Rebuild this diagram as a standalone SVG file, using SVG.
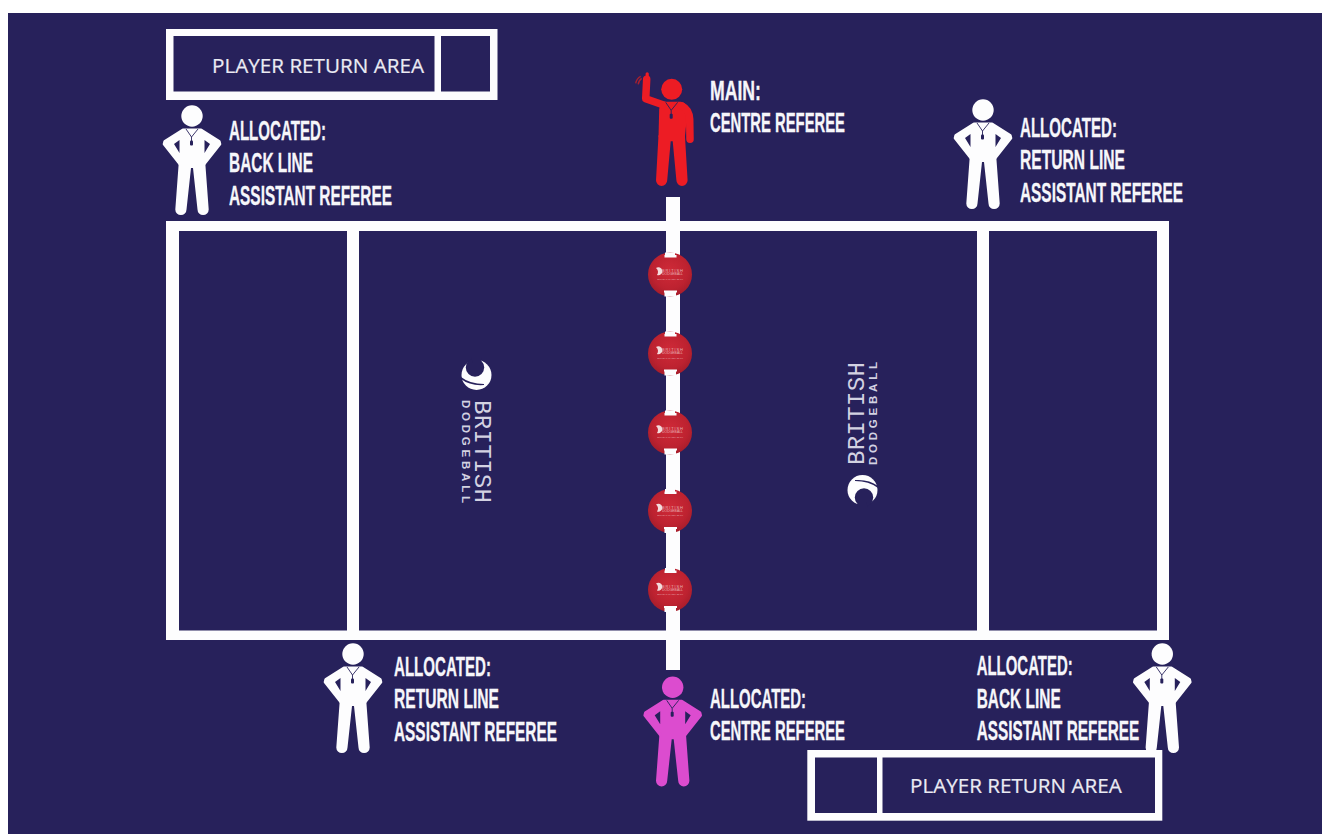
<svg xmlns="http://www.w3.org/2000/svg" width="1322" height="834" viewBox="0 0 1322 834">
<style>
.navy{fill:#27215b}
.line{fill:#fdfdfe}
.lab{font-family:"Liberation Sans Narrow","Liberation Sans",Arial,sans-serif;font-weight:700;font-size:27px;fill:#f6f6fa;stroke:#f6f6fa;stroke-width:.3}
.area{font-family:"Open Sans","Noto Sans",sans-serif;font-size:19.5px;fill:#ebebf3;stroke:#ebebf3;stroke-width:.2}
.brit{font-family:"Liberation Mono",monospace;font-size:24px;fill:#d3d2e2}
.dodge{font-family:"Liberation Sans",Arial,sans-serif;font-weight:700;font-size:11.5px;fill:#d3d2e2}
.balltxt{font-family:"Liberation Sans",Arial,sans-serif;fill:#f0cfd0;opacity:.8}
.white{color:#fdfdfe}.red{color:#ed1c24}.mag{color:#dc4ccf}
.lany{fill:none;stroke:#27215b;stroke-width:.9}
</style>
<defs>
<radialGradient id="ballGrad" cx="50%" cy="42%" r="58%">
<stop offset="0" stop-color="#cf2a38"/><stop offset=".7" stop-color="#bd2230"/><stop offset="1" stop-color="#a61d2b"/>
</radialGradient>
<g id="whistle">
<path class="lany" d="M-6 13 L-.5 21 L-.5 25 M6 13 L-.5 21"/>
<rect x="-2" y="24.5" width="3" height="5" rx="1" fill="#27215b"/>
</g>
<path id="legs" fill="currentColor" d="M-13.2 46 L-16.7 93.5 A5.6 5.6 0 0 0 -5.5 93.5 L-1 52 L1 52 L5.5 93.5 A5.6 5.6 0 0 0 16.7 93.5 L13.2 46 Z"/>
<g id="figure">
<circle cx="0" cy="0" r="10.7" fill="currentColor"/>
<path fill="currentColor" stroke="currentColor" stroke-width="3" stroke-linejoin="round" d="M-9 14 L9 14 L27.2 25.5 L27.8 28 L12 48 L-12 48 L-27.8 28 L-27.2 25.5 Z"/>
<use href="#legs"/>
<path class="navy" d="M-18 28 L-12.5 24 L-12.5 37 Z M18 28 L12.5 24 L12.5 37 Z"/>
<use href="#whistle"/>
</g>
<g id="ball">
<circle r="22" fill="url(#ballGrad)"/>
<path class="line" d="M-5 -22 L5 -22 L5 -19.5 L6.5 -19.5 L6.5 -17 L-5.5 -17 L-5.5 -19.5 L-5 -19.5 Z M-5.5 22 L6 22 L6 18 L7 18 L7 16 L-6 16 L-6 18 L-5.5 18 Z"/>
<path fill="#f3dcdc" d="M-14 -6.5 A4 4 0 1 1 -13 .5 A5 5 0 0 0 -14 -6.5 Z"/>
<text class="balltxt" x="-8" y="-2.5" font-size="4" textLength="21" lengthAdjust="spacing">BRITISH</text>
<text class="balltxt" x="-8" y=".9" font-size="2.8" textLength="21" lengthAdjust="spacingAndGlyphs">DODGEBALL</text>
<text class="balltxt" x="-13" y="5" font-size="2.4" textLength="26" lengthAdjust="spacingAndGlyphs">OFFICIAL MATCH BALL</text>
</g>
<g id="logo">
<circle cx="476.5" cy="375" r="15" fill="#fdfdfe"/>
<circle cx="475" cy="367.5" r="9.2" fill="#27215b"/>
<path fill="#27215b" d="M471 357 L482 357 L480 363 L473 363 Z"/>
<path fill="#27215b" d="M461 377 Q470 384 484 384 L484 385 Q470 386 461 379 Z"/>
<text class="brit" transform="translate(475 400) rotate(90)" textLength="103" lengthAdjust="spacing">BRITISH</text>
<text class="dodge" transform="translate(461.7 400) rotate(90)" textLength="103" lengthAdjust="spacing">DODGEBALL</text>
</g>
</defs>

<rect width="1322" height="834" fill="#ffffff"/>
<rect x="8" y="13" width="1314" height="821" class="navy"/>

<g id="court">
<rect class="line" x="166" y="221" width="1003" height="419"/>
<rect class="navy" x="179" y="231" width="168" height="399.5"/>
<rect class="navy" x="359" y="231" width="307" height="399.5"/>
<rect class="navy" x="680" y="231" width="297" height="399.5"/>
<rect class="navy" x="989" y="231" width="168" height="399.5"/>
<rect class="line" x="666" y="197" width="14" height="473"/>
</g>

<g id="logo-left"><use href="#logo"/></g>
<g id="logo-right"><use href="#logo" transform="rotate(180 669.5 432.5)"/></g>

<g id="balls">
<use href="#ball" x="670" y="274.5"/>
<use href="#ball" x="670" y="353.5"/>
<use href="#ball" x="670" y="432.5"/>
<use href="#ball" x="670" y="511"/>
<use href="#ball" x="670" y="590"/>
</g>

<g id="referee-back-line-top" class="white">
<use href="#figure" x="192" y="116"/>
<text class="lab" x="229" y="140" textLength="97" lengthAdjust="spacingAndGlyphs">ALLOCATED:</text>
<text class="lab" x="229" y="172.3" textLength="84" lengthAdjust="spacingAndGlyphs">BACK LINE</text>
<text class="lab" x="229" y="205" textLength="163" lengthAdjust="spacingAndGlyphs">ASSISTANT REFEREE</text>
</g>

<g id="referee-return-line-top" class="white">
<use href="#figure" x="983" y="110"/>
<text class="lab" x="1020" y="136.5" textLength="97" lengthAdjust="spacingAndGlyphs">ALLOCATED:</text>
<text class="lab" x="1020" y="169" textLength="105" lengthAdjust="spacingAndGlyphs">RETURN LINE</text>
<text class="lab" x="1020" y="201.5" textLength="163" lengthAdjust="spacingAndGlyphs">ASSISTANT REFEREE</text>
</g>

<g id="referee-return-line-bottom" class="white">
<use href="#figure" x="353" y="654"/>
<text class="lab" x="394" y="675.5" textLength="97" lengthAdjust="spacingAndGlyphs">ALLOCATED:</text>
<text class="lab" x="394" y="708" textLength="105" lengthAdjust="spacingAndGlyphs">RETURN LINE</text>
<text class="lab" x="394" y="740.5" textLength="163" lengthAdjust="spacingAndGlyphs">ASSISTANT REFEREE</text>
</g>

<g id="referee-back-line-bottom" class="white">
<use href="#figure" x="1162.3" y="654"/>
<text class="lab" x="976.7" y="675" textLength="96" lengthAdjust="spacingAndGlyphs">ALLOCATED:</text>
<text class="lab" x="976.7" y="707.7" textLength="84" lengthAdjust="spacingAndGlyphs">BACK LINE</text>
<text class="lab" x="976.7" y="740" textLength="162.5" lengthAdjust="spacingAndGlyphs">ASSISTANT REFEREE</text>
</g>

<g id="referee-main-centre" class="red">
<g transform="translate(671.7 89.3)">
<circle r="10.5" fill="currentColor"/>
<path fill="currentColor" d="M-11 12.5 L9 12.5 Q15 13 16 20 L13.2 48 L-13.2 48 L-12.5 20 Z"/>
<path fill="none" stroke="currentColor" stroke-width="7.5" stroke-linecap="round" stroke-linejoin="round" d="M-6 16.5 L-26 9.5 L-25 -10 M10 16.5 Q17.5 20 18 30 L18.3 50"/>
<path fill="none" stroke="currentColor" stroke-width="3.2" stroke-linecap="round" d="M-24.5 -12 L-24.5 -15.5"/>
<path fill="currentColor" d="M-13.2 46 L-15.7 91 A5.6 5.6 0 0 0 -4.5 91 L-1 52 L1 52 L4.7 91 A5.6 5.6 0 0 0 15.9 91 L13.2 46 Z"/>
<path fill="none" stroke="#a8202f" stroke-width="1.4" d="M-36 -6 Q-35 -11 -31 -13 M-33.5 -5 Q-33 -9 -30 -11"/>
<use href="#whistle"/>
</g>
<text class="lab" x="710" y="100" textLength="51" lengthAdjust="spacingAndGlyphs">MAIN:</text>
<text class="lab" x="710" y="132.3" textLength="135" lengthAdjust="spacingAndGlyphs">CENTRE REFEREE</text>
</g>

<g id="referee-allocated-centre" class="mag">
<use href="#figure" x="672.7" y="687.3"/>
<text class="lab" x="710" y="707.7" textLength="96" lengthAdjust="spacingAndGlyphs">ALLOCATED:</text>
<text class="lab" x="710" y="740" textLength="135" lengthAdjust="spacingAndGlyphs">CENTRE REFEREE</text>
</g>

<g id="return-area-top">
<rect class="line" x="166" y="29" width="331.5" height="71"/>
<rect class="navy" x="173.5" y="36" width="261" height="55.5"/>
<rect class="navy" x="441" y="36" width="49" height="55.5"/>
<text class="area" x="212" y="72.5" textLength="212" lengthAdjust="spacingAndGlyphs">PLAYER RETURN AREA</text>
</g>

<g id="return-area-bottom">
<rect class="line" x="807.3" y="750" width="355" height="70.7"/>
<rect class="navy" x="815" y="757.5" width="62" height="55.5"/>
<rect class="navy" x="882.5" y="757.5" width="272.5" height="55.5"/>
<text class="area" x="910" y="793.3" textLength="211.7" lengthAdjust="spacingAndGlyphs">PLAYER RETURN AREA</text>
</g>
</svg>
